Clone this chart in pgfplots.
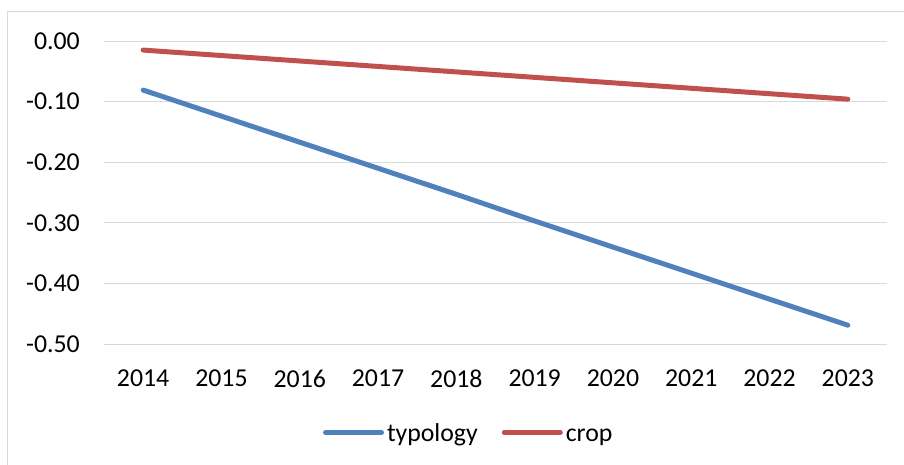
\documentclass[border=0pt]{standalone}
\usepackage{pgfplots}
\pgfplotsset{compat=1.18}
\usepackage{fontspec}
\setmainfont{Carlito}
\definecolor{sblue}{HTML}{4F81BD}
\definecolor{sred}{HTML}{C0504D}
\definecolor{gridc}{HTML}{D9D9D9}
\begin{document}
\fontsize{25.8bp}{31bp}\selectfont
\begin{tikzpicture}
\useasboundingbox (0,0) rectangle (904bp,465bp);
\draw[gridc, line width=1bp] (7.5bp,0) -- (7.5bp,453bp) -- (904bp,453bp);
\begin{axis}[
  at={(104bp,121bp)}, anchor=south west,
  scale only axis, width=783bp, height=303bp,
  xmin=2013.5, xmax=2023.5, ymin=-0.5, ymax=0,
  xtick={2014,2015,2016,2017,2018,2019,2020,2021,2022,2023},
  xticklabels={2014,2015,2016,2017,2018,2019,2020,2021,2022,2023},
  ytick={-0.5,-0.4,-0.3,-0.2,-0.1,0},
  yticklabels={-0.50,-0.40,-0.30,-0.20,-0.10,0.00},
  ymajorgrids, major grid style={gridc, line width=1bp},
  axis line style={draw=none}, major tick length=0pt, tick style={draw=none},
  yticklabel style={anchor=east, inner sep=0pt, xshift=-24bp},
  xticklabel style={anchor=north, inner sep=0pt, yshift=-26bp},
  clip=false,
  legend columns=2,
  legend style={draw=none, fill=none, inner sep=0pt, outer sep=0pt,
    at={(0.2797,-0.297)}, anchor=west,
    nodes={inner sep=0pt, anchor=base west},
    /tikz/every odd column/.append style={column sep=3bp},
    /tikz/every even column/.append style={column sep=24bp}},
  legend image code/.code={\draw[#1, line cap=round] (0bp,0.33em) -- (56bp,0.33em);},
]
\addplot[sblue, line width=5bp, line cap=round] table {
x y
2014 -0.081
2015 -0.124
2016 -0.167
2017 -0.210
2018 -0.253
2019 -0.297
2020 -0.340
2021 -0.383
2022 -0.426
2023 -0.469
};
\addlegendentry{typology}
\addplot[sred, line width=5bp, line cap=round] table {
x y
2014 -0.015
2015 -0.024
2016 -0.033
2017 -0.042
2018 -0.051
2019 -0.060
2020 -0.069
2021 -0.078
2022 -0.087
2023 -0.096
};
\addlegendentry{crop}
\end{axis}
\end{tikzpicture}
\end{document}
